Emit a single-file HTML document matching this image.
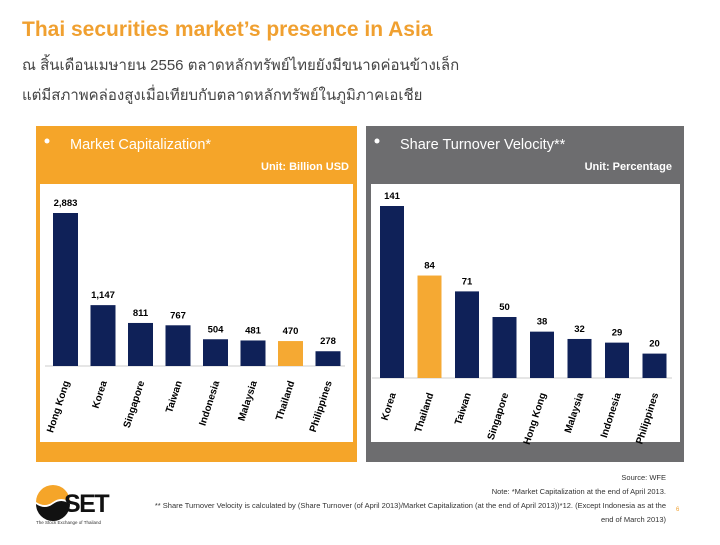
<!DOCTYPE html>
<html><head><meta charset="utf-8"><style>
body{margin:0;width:720px;height:540px;background:#fff;overflow:hidden;font-family:"Liberation Sans","Noto Sans CJK SC",sans-serif}
</style></head><body>
<svg width="720" height="540" xmlns="http://www.w3.org/2000/svg" font-family="Liberation Sans, Noto Sans CJK SC, sans-serif">
<text x="22" y="36" font-size="21" font-weight="bold" fill="#f0a030">Thai securities market’s presence in Asia</text>
<text x="22" y="70" font-size="15" fill="#444">ณ สิ้นเดือนเมษายน        2556 ตลาดหลักทรัพย์ไทยยังมีขนาดค่อนข้างเล็ก</text>
<text x="22" y="100" font-size="15" fill="#444">แต่มีสภาพคล่องสูงเมื่อเทียบกับตลาดหลักทรัพย์ในภูมิภาคเอเชีย</text>

<rect x="36" y="126" width="321" height="336" fill="#f5a529"/>
<rect x="40" y="184" width="313" height="258" fill="#fff"/>
<circle cx="47" cy="141" r="2.5" fill="#fff"/>
<text x="70" y="149" font-size="14.5" fill="#fff">Market Capitalization*</text>
<text x="349" y="170" font-size="11" font-weight="bold" fill="#fff" text-anchor="end">Unit: Billion USD</text>

<rect x="366" y="126" width="318" height="336" fill="#6d6d6f"/>
<rect x="371" y="184" width="309" height="258" fill="#fff"/>
<circle cx="377" cy="141" r="2.5" fill="#fff"/>
<text x="400" y="149" font-size="14.5" fill="#fff">Share Turnover Velocity**</text>
<text x="672" y="170" font-size="11" font-weight="bold" fill="#fff" text-anchor="end">Unit: Percentage</text>

<g id="c1"></g><g id="c2"></g>

<text x="666" y="480" font-size="7.5" fill="#333" text-anchor="end">Source: WFE</text>
<text x="666" y="494" font-size="7.5" fill="#333" text-anchor="end">Note: *Market Capitalization at the end of April 2013.</text>
<text x="666" y="508" font-size="7.5" fill="#333" text-anchor="end">** Share Turnover Velocity is calculated by (Share Turnover (of April 2013)/Market Capitalization (at the end of April 2013))*12. (Except Indonesia as at the</text>
<text x="666" y="522" font-size="7.5" fill="#333" text-anchor="end">end of March 2013)</text>
<text x="676" y="511" font-size="6" fill="#f0a030">6</text>
<g>
<path d="M36 502 A17 17 0 0 1 70 502 Q61 496 53 502 Q45 508 36 502Z" fill="#f5a529"/>
<path d="M36 504 Q45 510 53 504 Q61 498 70 504 A17 17 0 0 1 36 504Z" fill="#111"/>
<text x="64" y="512" font-size="25" font-weight="bold" fill="#111" letter-spacing="-1.5">SET</text>
<text x="36" y="524" font-size="4.5" fill="#333">The Stock Exchange of Thailand</text>
</g>
</svg>
<script>
const capCountries=["Hong Kong","Korea","Singapore","Taiwan","Indonesia","Malaysia","Thailand","Philippines"];
const capValues=[2883,1147,811,767,504,481,470,278];
const capLabels=["2,883","1,147","811","767","504","481","470","278"];
const velCountries=["Korea","Thailand","Taiwan","Singapore","Hong Kong","Malaysia","Indonesia","Philippines"];
const velValues=[141,84,71,50,38,32,29,20];
const velLabels=["141","84","71","50","38","32","29","20"];
const NS="http://www.w3.org/2000/svg";
function draw(gid,cats,vals,labs,x0,step,bw,base,maxV,maxH,prefix){
  const g=document.getElementById(gid);
  const y=v=>base-v/maxV*maxH;
  const ax=document.createElementNS(NS,"line");
  ax.setAttribute("x1",x0-8);ax.setAttribute("x2",x0+step*cats.length-8);
  ax.setAttribute("y1",base);ax.setAttribute("y2",base);
  ax.setAttribute("stroke","#ccc");
  
  
  g.appendChild(ax);
  cats.forEach((c,i)=>{
    const x=x0+i*step;
    const r=document.createElementNS(NS,"rect");
    r.setAttribute("x",x);r.setAttribute("width",bw);
    r.setAttribute("y",y(vals[i]));r.setAttribute("height",base-y(vals[i]));
    r.setAttribute("fill",c==="Thailand"?"#f5a933":"#0f2158");
    
    
    g.appendChild(r);
    const t=document.createElementNS(NS,"text");
    t.setAttribute("x",x+bw/2);t.setAttribute("y",y(vals[i])-7);
    t.setAttribute("text-anchor","middle");t.setAttribute("font-size","9.5");t.setAttribute("font-weight","bold");
    t.textContent=labs[i];
    
    
    g.appendChild(t);
    const l=document.createElementNS(NS,"text");
    l.setAttribute("transform","translate("+(x+bw/2+4)+","+(base+16)+") rotate(-72)");
    l.setAttribute("text-anchor","end");l.setAttribute("font-size","10");l.setAttribute("font-weight","600");
    l.textContent=c;
    
    
    g.appendChild(l);
  });
}
draw("c1",capCountries,capValues,capLabels,53,37.5,25,366,2883,153,"market-cap");
draw("c2",velCountries,velValues,velLabels,380,37.5,24,378,141,172,"turnover");
</script>
</body></html>
